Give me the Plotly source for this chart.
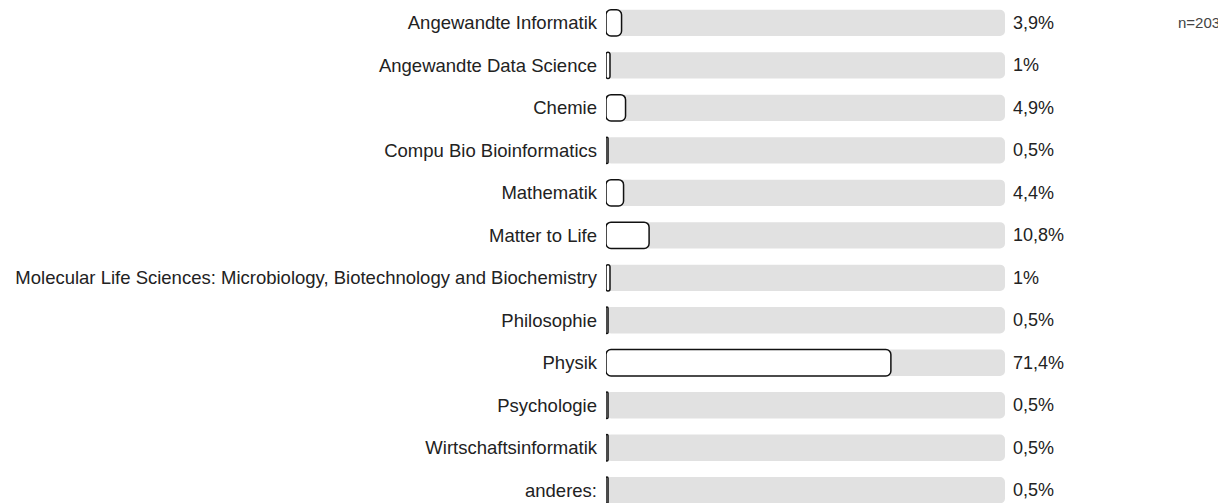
import plotly.graph_objects as go

categories = [
    "Angewandte Informatik",
    "Angewandte Data Science",
    "Chemie",
    "Compu Bio Bioinformatics",
    "Mathematik",
    "Matter to Life",
    "Molecular Life Sciences: Microbiology, Biotechnology and Biochemistry",
    "Philosophie",
    "Physik",
    "Psychologie",
    "Wirtschaftsinformatik",
    "anderes:",
]
values = [3.9, 1.0, 4.9, 0.5, 4.4, 10.8, 1.0, 0.5, 71.4, 0.5, 0.5, 0.5]
value_labels = ["3,9%", "1%", "4,9%", "0,5%", "4,4%", "10,8%", "1%", "0,5%", "71,4%", "0,5%", "0,5%", "0,5%"]
track_max = [100] * len(categories)
n_label = "n=203"

font_family = "Arial, Liberation Sans, Helvetica, sans-serif"
BAR_W = 0.62
zero_base = [0] * len(categories)

fig = go.Figure()
fig.add_trace(go.Bar(
    y=categories, x=track_max, base=zero_base, orientation="h",
    marker=dict(color="#e1e1e1", line=dict(width=0), cornerradius=5),
    width=BAR_W, hoverinfo="skip", showlegend=False,
))
fig.add_trace(go.Bar(
    y=categories, x=values, base=zero_base, orientation="h",
    marker=dict(color="white", line=dict(color="#111111", width=1.5), cornerradius=5),
    width=BAR_W, showlegend=False,
    customdata=value_labels, hovertemplate="%{y}: %{customdata}<extra></extra>",
))

for cat, lab, mx in zip(categories, value_labels, track_max):
    fig.add_annotation(
        x=mx, y=cat, xref="x", yref="y", text=lab, showarrow=False,
        xanchor="left", yanchor="middle", xshift=6,
        font=dict(size=18, color="#222", family=font_family),
    )

fig.add_annotation(
    text=n_label, xref="paper", yref="paper", x=1.0, y=1.0,
    xanchor="right", yanchor="middle", xshift=217, yshift=-14.5,
    showarrow=False, font=dict(size=15, color="#444", family=font_family),
)

fig.update_layout(
    width=1218, height=495,
    margin=dict(l=598, r=221, t=0, b=0, autoexpand=False),
    barmode="overlay",
    plot_bgcolor="white", paper_bgcolor="white",
    font=dict(family=font_family, size=18, color="#222"),
    xaxis=dict(range=[0, 100], visible=False, fixedrange=True),
    yaxis=dict(
        type="category", categoryorder="array", categoryarray=categories,
        range=[11.3, -0.35], showgrid=False, zeroline=False, showline=False,
        ticks="", ticklabelstandoff=8, tickfont=dict(size=18.5, color="#222"),
    ),
)

fig.write_html("out.html")
